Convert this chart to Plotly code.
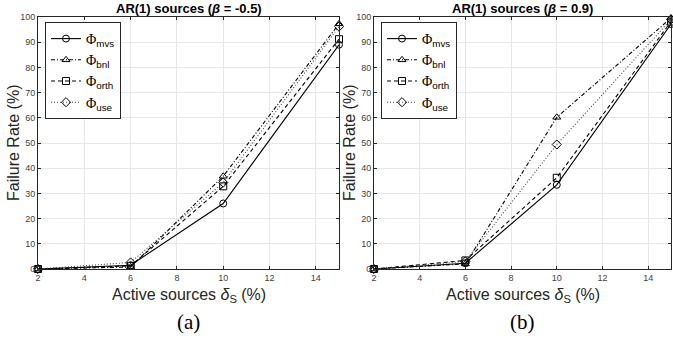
import plotly.graph_objects as go

x_vals = [2, 6, 10, 15]
sub_names = ["mvs", "bnl", "orth", "use"]
series_names = ["Φ<sub><span style='font-family:Liberation Sans, Arial'>%s</span></sub>" % s
                for s in sub_names]

# beta = -0.5
a_mvs = [0, 1.5, 26, 89]
a_bnl = [0, 0.8, 36.8, 97.3]
a_orth = [0, 1.2, 32.8, 91.2]
a_use = [0, 2.6, 34.3, 96.2]

# beta = 0.9
b_mvs = [0, 2.3, 33.4, 97.2]
b_bnl = [0, 2.0, 60.2, 99.6]
b_orth = [0, 3.4, 36.2, 98.2]
b_use = [0, 3.0, 49.4, 99.0]

titles = ["AR(1) sources (<i>β</i> = -0.5)", "AR(1) sources (<i>β</i> = 0.9)"]
panel_labels = ["(a)", "(b)"]
x_ticks = [2, 4, 6, 8, 10, 12, 14]
y_ticks = list(range(0, 101, 10))

styles = [
    dict(dash="solid", symbol="circle-open", color="#000000"),
    dict(dash="4px,2px,1px,2px", symbol="triangle-up-open", color="#000000"),
    dict(dash="4px,3px", symbol="square-open", color="#000000"),
    dict(dash="1px,2px", symbol="diamond-open", color="#444444"),
]

fig = go.Figure()
panels = [[a_mvs, a_bnl, a_orth, a_use], [b_mvs, b_bnl, b_orth, b_use]]
for p, data in enumerate(panels):
    xa = "x" if p == 0 else "x2"
    ya = "y" if p == 0 else "y2"
    lg = "legend" if p == 0 else "legend2"
    for name, ys, st in zip(series_names, data, styles):
        fig.add_trace(go.Scatter(
            x=x_vals, y=ys, name=name, mode="lines+markers",
            line=dict(color=st["color"], width=1.1, dash=st["dash"]),
            marker=dict(symbol=st["symbol"], size=7, color="#000000",
                        line=dict(color="#000000", width=1)),
            xaxis=xa, yaxis=ya, legend=lg, cliponaxis=False,
        ))

y_dom = [1 - 269 / 341, 1 - 17 / 341]
x_doms = [[38 / 673, 339 / 673], [374 / 673, 671 / 673]]

axis_common = dict(
    showline=True, linecolor="#262626", linewidth=1, mirror="ticks",
    ticks="inside", ticklen=3, tickcolor="#262626",
    showgrid=True, gridcolor="#e6e6e6", gridwidth=1, zeroline=False,
    tickfont=dict(family="Liberation Sans, Arial", size=9, color="#404040"),
    automargin=False,
)

layout = dict(
    width=673, height=341,
    margin=dict(l=0, r=0, t=0, b=0),
    paper_bgcolor="white", plot_bgcolor="white",
    font=dict(family="Liberation Sans, Arial", color="#000000"),
    showlegend=True,
)
for p in range(2):
    sfx = "" if p == 0 else "2"
    layout["xaxis" + sfx] = dict(axis_common, domain=x_doms[p], range=[2, 15],
                                 tickvals=x_ticks, anchor="y" + sfx)
    layout["yaxis" + sfx] = dict(axis_common, domain=y_dom, range=[0, 100],
                                 tickvals=y_ticks, anchor="x" + sfx)
    leg = dict(
        x=x_doms[p][0] + 7 / 673, y=y_dom[1] - 5 / 341, xanchor="left", yanchor="top",
        bgcolor="white", bordercolor="#262626", borderwidth=1,
        font=dict(family="Liberation Serif, Times New Roman", size=14, color="#000000"),
        tracegroupgap=0, itemwidth=30,
    )
    layout["legend" if p == 0 else "legend2"] = leg

fig.update_layout(**layout)

annotations = []
for p in range(2):
    cx = (x_doms[p][0] + x_doms[p][1]) / 2
    annotations.append(dict(text="<b>" + titles[p] + "</b>", x=cx, y=1 - 9 / 341,
                            xref="paper", yref="paper", showarrow=False,
                            font=dict(size=13, color="#000000"), xanchor="center", yanchor="middle"))
    annotations.append(dict(text="Active sources <i>δ</i><sub>S</sub> (%)", x=cx, y=1 - 295 / 341,
                            xref="paper", yref="paper", showarrow=False,
                            font=dict(size=16, color="#262626"), xanchor="center", yanchor="middle"))
    annotations.append(dict(text="Failure Rate (%)", x=(x_doms[p][0] * 673 - 25) / 673,
                            y=(y_dom[0] + y_dom[1]) / 2, textangle=-90,
                            xref="paper", yref="paper", showarrow=False,
                            font=dict(size=16, color="#262626"), xanchor="center", yanchor="middle"))
    annotations.append(dict(text=panel_labels[p], x=cx, y=1 - 322 / 341,
                            xref="paper", yref="paper", showarrow=False,
                            font=dict(family="Liberation Serif, Times New Roman", size=21, color="#000000"),
                            xanchor="center", yanchor="middle"))
fig.update_layout(annotations=annotations)

fig.write_html("out.html", config={"displayModeBar": False},
               post_script="document.body.style.margin='0';document.body.style.overflow='hidden';")
